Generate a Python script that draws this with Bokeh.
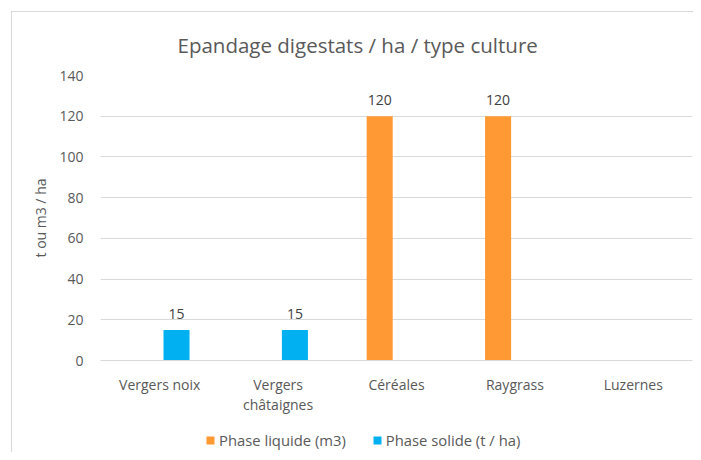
from bokeh.plotting import figure
from bokeh.layouts import column
from bokeh.models import (ColumnDataSource, FactorRange, Range1d, LabelSet,
                          Legend, LegendItem, FixedTicker)
from bokeh.transform import dodge
from bokeh.core.properties import value
from bokeh.embed import file_html
from bokeh.resources import INLINE

# ---- data ----
categories = ["Vergers noix", "Vergers\nchâtaignes", "Céréales", "Raygrass", "Luzernes"]
liquide = [None, None, 120, 120, None]   # Phase liquide (m3)
solide = [15, 15, None, None, None]      # Phase solide (t / ha)
y_ticks = [0, 20, 40, 60, 80, 100, 120, 140]
title_text = "Epandage digestats / ha / type culture"
y_title = "t ou m3 / ha"
series_names = ["Phase liquide (m3)", "Phase solide (t / ha)"]

ORANGE = "#FF9933"
BLUE = "#00B0F0"
GRID = "#D9D9D9"
TXT = "#595959"
FONT = "Open Sans"

def src(vals):
    cats = [c for c, v in zip(categories, vals) if v is not None]
    vs = [v for v in vals if v is not None]
    return ColumnDataSource(dict(cat=cats, val=vs, lab=[str(v) for v in vs]))

src_l = src(liquide)
src_s = src(solide)

p = figure(x_range=FactorRange(*categories), y_range=Range1d(0, 140),
           width=681, height=405, output_backend="svg", toolbar_location=None,
           min_border_left=88, min_border_right=1, min_border_top=62, min_border_bottom=56)
p.outline_line_color = None
p.background_fill_color = "white"
p.border_fill_color = "white"

BW = 0.22
OFF = 0.142
r_l = p.vbar(x=dodge("cat", -OFF, range=p.x_range), top="val", width=BW, source=src_l,
             fill_color=ORANGE, line_color=None)
r_s = p.vbar(x=dodge("cat", OFF, range=p.x_range), top="val", width=BW, source=src_s,
             fill_color=BLUE, line_color=None)

for s, off in ((src_l, -OFF), (src_s, OFF)):
    p.add_layout(LabelSet(x=dodge("cat", off, range=p.x_range), y="val", text="lab", source=s,
                          y_offset=16, text_align="center", text_baseline="middle",
                          text_font=value(FONT), text_font_size="14px", text_color="#404040"))

# title
p.title.text = title_text
p.title.align = "left"
p.title.offset = 77
p.title.standoff = 33
p.title.text_font = FONT
p.title.text_font_size = "20.5px"
p.title.text_font_style = "normal"
p.title.text_color = TXT

# axes
p.xgrid.grid_line_color = None
p.ygrid.grid_line_color = GRID
p.ygrid.ticker = FixedTicker(ticks=y_ticks)
p.yaxis.ticker = FixedTicker(ticks=y_ticks)
p.yaxis.axis_line_color = None
p.yaxis.major_tick_line_color = None
p.yaxis.minor_tick_line_color = None
p.yaxis.major_label_standoff = 11
p.yaxis.major_label_text_font = FONT
p.yaxis.major_label_text_font_size = "14px"
p.yaxis.major_label_text_color = TXT
p.yaxis.axis_label = y_title
p.yaxis.axis_label_text_font = FONT
p.yaxis.axis_label_text_font_size = "14px"
p.yaxis.axis_label_text_font_style = "normal"
p.yaxis.axis_label_text_color = TXT
p.yaxis.axis_label_standoff = 6

p.xaxis.axis_line_color = GRID
p.xaxis.major_tick_line_color = None
p.xaxis.minor_tick_line_color = None
p.xaxis.major_label_standoff = 8
p.xaxis.major_label_text_font = FONT
p.xaxis.major_label_text_font_size = "14px"
p.xaxis.major_label_text_color = TXT
p.xaxis.major_label_text_line_height = 1.1

# ---- legend strip (separate figure below the chart, same series, bars out of view) ----
pl = figure(width=681, height=35, x_range=p.x_range, y_range=Range1d(1000, 1001),
            output_backend="svg", toolbar_location=None,
            min_border_left=0, min_border_right=0, min_border_top=0, min_border_bottom=0)
pl.axis.visible = False
pl.grid.visible = False
pl.outline_line_color = None
pl.background_fill_color = "white"
pl.border_fill_color = "white"
k_l = pl.vbar(x=dodge("cat", -OFF, range=p.x_range), top="val", width=BW, source=src_l,
              fill_color=ORANGE, line_color=None)
k_s = pl.vbar(x=dodge("cat", OFF, range=p.x_range), top="val", width=BW, source=src_s,
              fill_color=BLUE, line_color=None)
legend = Legend(items=[LegendItem(label=series_names[0], renderers=[k_l]),
                       LegendItem(label=series_names[1], renderers=[k_s])],
                orientation="horizontal", location=(105, 2),
                glyph_width=10, glyph_height=10, label_standoff=4, spacing=26,
                padding=0, margin=0, border_line_color=None, background_fill_alpha=0,
                label_text_font=FONT, label_text_font_size="14.8px", label_text_color=TXT,
                label_height=20)
pl.add_layout(legend)

layout = column(p, pl, spacing=0,
                styles={"border-left": "1px solid #D9D9D9", "border-top": "1px solid #D9D9D9",
                        "margin-left": "11px", "margin-top": "11px"})

open("out.html", "w").write(file_html(layout, INLINE))
